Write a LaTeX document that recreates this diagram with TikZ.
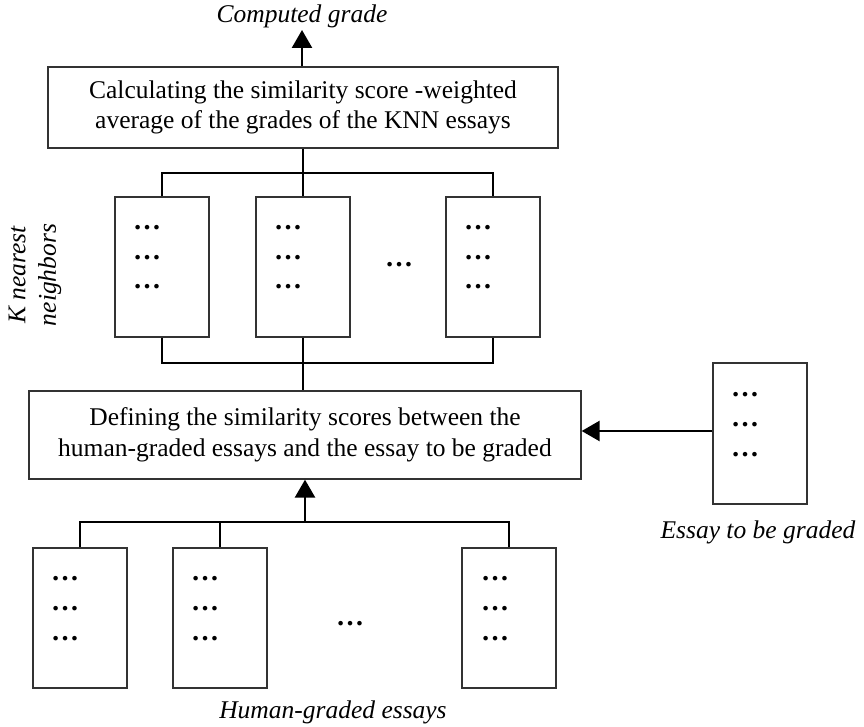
\documentclass[tikz,border=0pt]{standalone}
\usepackage{fontspec}
\setmainfont{Liberation Serif}
\usetikzlibrary{arrows.meta}
\begin{document}
\begin{tikzpicture}[x=1pt,y=-1pt,
  txt/.style={font=\fontsize{25.5}{30.6}\selectfont},
  essaybox/.style={draw=black!80, line width=1.3pt, minimum width=94pt, minimum height=140pt, inner sep=0pt},
  procbox/.style={txt, draw=black!80, line width=1.3pt, align=center, inner sep=0pt},
  lbl/.style={font=\fontsize{25.5}{30.6}\selectfont\itshape, inner sep=0pt},
  rows/.style={anchor=base, inner sep=0pt, font=\fontsize{28}{30}\selectfont\bfseries},
  link/.style={line width=2.6pt, black},
  arr/.style={link, -{Triangle[width=20pt,length=18pt]}}]
\useasboundingbox (0,0) rectangle (864,727);

% processing steps
\node[procbox, minimum width=510pt, minimum height=81pt] (calc) at (303,107.5)
  {Calculating the similarity score -weighted\\average of the grades of the KNN essays};
\node[procbox, minimum width=552pt, minimum height=88pt] (def) at (305,435)
  {Defining the similarity scores between the\\human-graded essays and the essay to be graded};

% K nearest neighbours
\node[essaybox] (k1) at (162,267) {};
\node[essaybox] (k2) at (303,267) {};
\node[essaybox] (k3) at (493,267) {};
% human-graded essays
\node[essaybox] (h1) at (80,618) {};
\node[essaybox] (h2) at (220,618) {};
\node[essaybox] (h3) at (509,618) {};
% essay to be graded
\node[essaybox, minimum height=141pt] (e) at (760,433.5) {};

% dotted content rows
\foreach \b/\x in {k1/147,k2/288,k3/478} {
  \foreach \y [count=\i] in {229.5,259.5,288.5}
    \node[rows] (\b-r\i) at (\x,\y) {…};
}
\foreach \b/\x in {h1/65,h2/205,h3/495} {
  \foreach \y [count=\i] in {580.5,610.5,640.5}
    \node[rows] (\b-r\i) at (\x,\y) {…};
}
\foreach \y [count=\i] in {396.5,426.5,456.5}
  \node[rows] (e-r\i) at (745,\y) {…};
\node[rows] (kmore) at (399,266.5) {…};
\node[rows] (hmore) at (350,625.5) {…};

% labels
\node[lbl, anchor=base] (cg) at (302,23) {Computed grade};
\node[lbl, anchor=base] (hlbl) at (333,718) {Human-graded essays};
\node[lbl, anchor=base] (elbl) at (758,538) {Essay to be graded};
\node[lbl, rotate=90, align=center] (klbl) at (35,275) {K nearest\\neighbors};

% connectors
\coordinate (cgtip) at (302,30);
\coordinate (ktop) at (303,173);
\coordinate (kbot) at (303,363);
\coordinate (hbar) at (305,522);

\draw[arr] (calc.north -| cgtip) -- (cgtip);
\draw[link] (calc.south -| ktop) -- (ktop);
\draw[link] (k1.north) -- (k1.north |- ktop) -- (k3.north |- ktop) -- (k3.north);
\draw[link] (k2.north) -- (k2.north |- ktop);

\draw[link] (k1.south) -- (k1.south |- kbot) -- (k3.south |- kbot) -- (k3.south);
\draw[link] (k2.south) -- (k2.south |- kbot);
\draw[link] (kbot) -- (def.north -| kbot);

\draw[link] (h1.north) -- (h1.north |- hbar) -- (h3.north |- hbar) -- (h3.north);
\draw[link] (h2.north) -- (h2.north |- hbar);
\draw[arr] (hbar) -- (hbar |- def.south);

\coordinate (eout) at (e.west |- 0,431);
\draw[arr] (eout) -- (def.east |- eout);
\end{tikzpicture}
\end{document}
